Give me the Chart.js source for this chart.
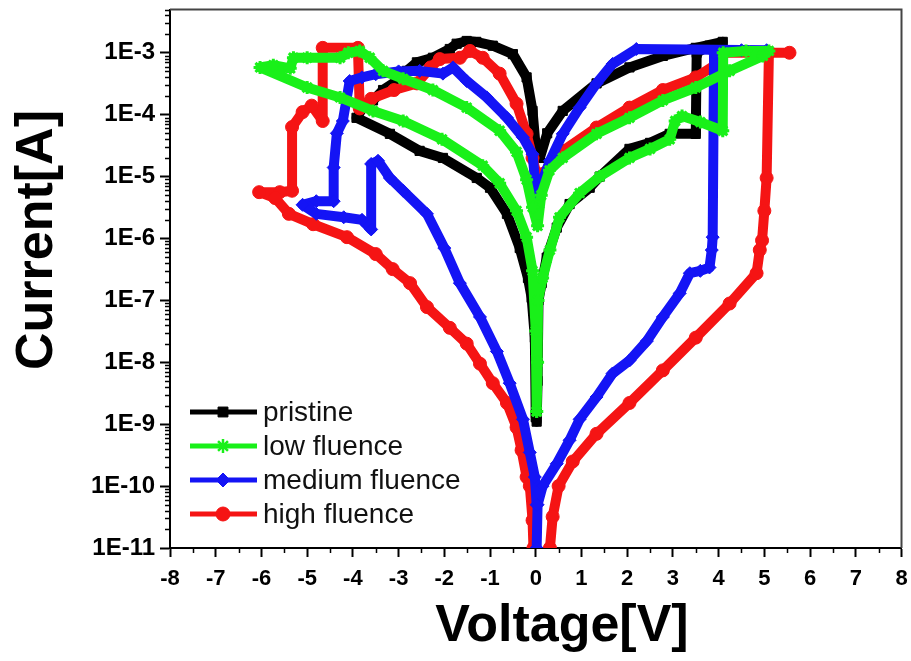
<!DOCTYPE html>
<html>
<head>
<meta charset="utf-8">
<title>I-V curves</title>
<script src="https://cdn.jsdelivr.net/npm/chart.js@4.4.0/dist/chart.umd.min.js"></script>
<style>
    html, body { margin: 0; padding: 0; background: #fff; }
    #wrap { width: 911px; height: 661px; position: relative; }
</style>
</head>
<body>
<div id="wrap"><canvas id="iv-chart"></canvas></div>
<script>
// voltage [V] and current [A], in sweep order
const pristineV = [0.02, 0.04, 0.06, 0.13, 0.24, 0.46, 0.74, 1.18, 1.4, 2.05, 2.5, 2.93, 3.5, 3.52, 3.8, 4.09, 3.5, 2.78, 2.05, 1.33, 0.59, 0.25, 0.09, 0.02, -0.07, -0.2, -0.5, -0.94, -1.3, -1.51, -1.73, -1.88, -2.25, -2.6, -2.82, -3.04, -3.34, -3.56, -3.78, -3.92, -3.19, -2.54, -2.03, -1.29, -1.0, -0.63, -0.35, -0.17, -0.09, -0.02, 0.0];
const pristineI = [1.1e-9, 5e-9, 1e-7, 1.9e-7, 4.9e-7, 1.5e-6, 3.6e-6, 6.6e-6, 1e-5, 2.8e-5, 3.5e-5, 4.9e-5, 4.9e-5, 1e-3, 1.3e-3, 1.5e-3, 1.2e-3, 8.9e-4, 5.8e-4, 3.2e-4, 1.15e-4, 5e-5, 2e-5, 2e-5, 1.15e-4, 4e-4, 9.5e-4, 1.3e-3, 1.5e-3, 1.55e-3, 1.4e-3, 1.15e-3, 8.3e-4, 7e-4, 5.1e-4, 3.5e-4, 2.5e-4, 1.7e-4, 1.3e-4, 8.9e-5, 4.9e-5, 2.6e-5, 2e-5, 9.5e-6, 6.6e-6, 2.5e-6, 7e-7, 2.3e-7, 1.1e-7, 2.5e-8, 1.3e-9];

const lowV = [0.02, 0.04, 0.05, 0.15, 0.31, 0.52, 0.96, 1.4, 2.05, 2.5, 2.93, 3.05, 3.2, 3.6, 4.09, 4.1, 4.6, 5.1, 4.97, 4.24, 3.5, 2.78, 2.05, 1.33, 0.59, 0.3, 0.12, 0.04, -0.07, -0.2, -0.42, -0.79, -1.51, -2.25, -2.9, -3.34, -3.63, -3.85, -4.1, -4.28, -5.0, -5.3, -5.37, -5.74, -6.03, -5.0, -4.28, -3.56, -2.9, -2.05, -1.16, -0.79, -0.42, -0.2, -0.07, 0.0, 0.02];
const lowI = [1.6e-9, 1e-8, 1e-7, 2.3e-7, 6.5e-7, 2.2e-6, 5.4e-6, 1e-5, 2e-5, 2.8e-5, 4e-5, 7.9e-5, 9.5e-5, 7.6e-5, 5.5e-5, 1e-3, 1.07e-3, 1.07e-3, 8.9e-4, 5.1e-4, 2.75e-4, 1.7e-4, 8.9e-5, 4.9e-5, 2e-5, 1.26e-5, 5e-6, 1.6e-6, 3.2e-6, 8.9e-6, 2.5e-5, 5.5e-5, 1.3e-4, 2.5e-4, 3.8e-4, 5.1e-4, 8.3e-4, 1.07e-3, 1e-3, 8.3e-4, 8.3e-4, 8.3e-4, 5.6e-4, 6.3e-4, 5.8e-4, 2.75e-4, 1.9e-4, 1.15e-4, 7.9e-5, 4e-5, 1.5e-5, 7.8e-6, 2.8e-6, 1.05e-6, 3e-7, 3.2e-8, 1.6e-9];

const mediumV = [0.02, 0.04, 0.15, 0.46, 0.74, 0.96, 1.33, 1.68, 2.05, 2.43, 2.78, 3.15, 3.37, 3.6, 3.8, 3.85, 3.87, 3.9, 4.5, 5.05, 2.2, 1.68, 1.33, 0.96, 0.59, 0.31, 0.09, 0.04, -0.07, -0.28, -0.63, -1.07, -1.51, -1.81, -2.03, -2.54, -3.0, -3.5, -3.8, -4.07, -4.22, -4.35, -4.42, -4.42, -4.8, -5.1, -4.8, -4.2, -3.8, -3.6, -3.6, -3.45, -3.19, -2.9, -2.38, -2.0, -1.66, -1.22, -0.85, -0.57, -0.28, -0.13, -0.02, 0.02];
const mediumI = [1e-11, 5e-11, 1e-10, 2.3e-10, 5.5e-10, 1.2e-9, 2.75e-9, 6.6e-9, 1.07e-8, 2.2e-8, 5.4e-8, 1.3e-7, 2.75e-7, 3e-7, 3.4e-7, 6.5e-7, 1.05e-6, 1e-3, 1.1e-3, 1.1e-3, 1.15e-3, 6.6e-4, 3.2e-4, 1.3e-4, 4.9e-5, 1.8e-5, 6.6e-6, 3.2e-6, 2.3e-5, 4.3e-5, 8.9e-5, 1.9e-4, 3.5e-4, 5.8e-4, 4.6e-4, 5.1e-4, 5e-4, 4.5e-4, 4e-4, 3.5e-4, 7.9e-5, 5e-5, 1.4e-5, 4e-6, 4e-6, 3.5e-6, 2.5e-6, 2.2e-6, 2e-6, 1.4e-6, 1.6e-5, 1.8e-5, 9.5e-6, 5.9e-6, 2.5e-6, 7e-7, 1.9e-7, 5.4e-8, 1.5e-8, 4.6e-9, 1.2e-9, 3.5e-10, 1.4e-10, 5e-11];

const highV = [0.31, 0.37, 0.5, 0.81, 1.33, 2.05, 2.78, 3.5, 4.24, 4.83, 4.9, 4.95, 5.0, 5.05, 5.1, 5.55, 4.0, 3.96, 3.5, 2.78, 2.05, 1.33, 0.59, 0.15, 0.03, -0.07, -0.2, -0.42, -0.79, -1.16, -1.44, -1.66, -2.1, -2.3, -2.6, -3.1, -3.6, -3.85, -3.89, -4.66, -4.66, -4.9, -5.1, -5.33, -5.33, -5.6, -6.05, -5.7, -5.4, -4.87, -4.13, -3.5, -3.13, -2.75, -2.38, -1.88, -1.51, -1.22, -0.94, -0.63, -0.42, -0.31, -0.2, -0.13, -0.07, -0.05];
const highI = [1e-11, 3.2e-11, 1e-10, 2.5e-10, 7e-10, 2.2e-9, 7.4e-9, 2.5e-8, 8.9e-8, 2.75e-7, 6.5e-7, 9.3e-7, 2.8e-6, 9.5e-6, 1e-3, 1e-3, 1e-3, 6.6e-4, 4e-4, 2.5e-4, 1.3e-4, 6.2e-5, 2.6e-5, 1.1e-5, 1e-5, 2e-5, 4.9e-5, 1.5e-4, 4.6e-4, 8.3e-4, 1.07e-3, 8.3e-4, 7.9e-4, 5.8e-4, 3.2e-4, 2.5e-4, 1.8e-4, 1.26e-4, 1.2e-3, 1.2e-3, 7.9e-5, 1.4e-4, 1.1e-4, 6.3e-5, 5.9e-6, 5.6e-6, 5.6e-6, 4.5e-6, 2.5e-6, 1.7e-6, 1.05e-6, 5.6e-7, 3.2e-7, 1.9e-7, 7.8e-8, 3.6e-8, 2e-8, 9.5e-9, 4.6e-9, 2.2e-9, 8.9e-10, 3.8e-10, 1.4e-10, 1e-10, 2.8e-11, 1e-11];

const seriesNames = ['pristine', 'low fluence', 'medium fluence', 'high fluence'];
const xTickValues = [-8, -7, -6, -5, -4, -3, -2, -1, 0, 1, 2, 3, 4, 5, 6, 7, 8];
const yTickValues = [1e-11, 1e-10, 1e-9, 1e-8, 1e-7, 1e-6, 1e-5, 1e-4, 1e-3];

const FONT = "'Liberation Sans', Arial, Helvetica, sans-serif";

function toPoints(vs, is) {
    return vs.map((v, k) => ({ x: v, y: is[k] }));
}

function series(label, vs, is, color, style, order) {
    return {
        label: label,
        data: toPoints(vs, is),
        showLine: true,
        borderColor: color,
        backgroundColor: color,
        borderWidth: 10,
        borderJoinStyle: 'round',
        borderCapStyle: 'round',
        pointStyle: style,
        pointRadius: 6.5,
        pointBorderWidth: style === 'star' ? 3 : 1,
        pointBorderColor: color,
        pointBackgroundColor: color,
        tension: 0,
        order: order
    };
}

// frame, minor ticks, axis titles and the inset legend
const decorations = {
    id: 'decorations',
    afterDraw(chart) {
        const { ctx, chartArea: a, scales: { x, y } } = chart;
        ctx.save();

        ctx.strokeStyle = '#444';
        ctx.lineWidth = 2;
        ctx.beginPath();
        ctx.moveTo(a.left, a.top);
        ctx.lineTo(a.right, a.top);
        ctx.lineTo(a.right, a.bottom);
        ctx.stroke();

        ctx.strokeStyle = '#000';
        ctx.lineWidth = 1.5;
        ctx.beginPath();
        for (let e = -11; e <= -3; e++) {
            for (let m = 2; m <= 9; m++) {
                const v = m * Math.pow(10, e);
                if (v > y.max) break;
                const py = Math.round(y.getPixelForValue(v)) + 0.5;
                ctx.moveTo(a.left - 5, py);
                ctx.lineTo(a.left, py);
            }
        }
        for (let v = -7.5; v < 8; v += 1) {
            const px = Math.round(x.getPixelForValue(v)) + 0.5;
            ctx.moveTo(px, a.bottom);
            ctx.lineTo(px, a.bottom + 5);
        }
        ctx.stroke();

        ctx.fillStyle = '#000';
        ctx.font = 'bold 52px ' + FONT;
        ctx.textAlign = 'center';
        ctx.textBaseline = 'middle';
        ctx.fillText('Voltage[V]', 562, 627);
        ctx.save();
        ctx.translate(38, 240);
        ctx.rotate(-Math.PI / 2);
        ctx.fillText('Current[A]', 0, 0);
        ctx.restore();

        const rowY = [412, 446, 480, 514];
        ctx.font = '28px ' + FONT;
        ctx.textAlign = 'left';
        [0, 1, 2, 3].forEach(k => {
            const ds = chart.data.datasets[k];
            ctx.strokeStyle = ds.borderColor;
            ctx.fillStyle = ds.borderColor;
            ctx.lineWidth = 5;
            ctx.beginPath();
            ctx.moveTo(190, rowY[k]);
            ctx.lineTo(257, rowY[k]);
            ctx.stroke();
            ctx.lineWidth = ds.pointStyle === 'star' ? 2.5 : 1;
            Chart.helpers.drawPoint(ctx, {
                pointStyle: ds.pointStyle,
                rotation: 0,
                radius: 7,
                borderWidth: ctx.lineWidth
            }, 223, rowY[k]);
            ctx.fillStyle = '#111';
            ctx.fillText(ds.label, 263, rowY[k] + 1);
        });

        ctx.restore();
    }
};

const ctx = document.getElementById('iv-chart').getContext('2d');
new Chart(ctx, {
    type: 'scatter',
    data: {
        datasets: [
            series(seriesNames[0], pristineV, pristineI, '#000000', 'rect', 3),
            series(seriesNames[1], lowV, lowI, '#19f019', 'star', 0),
            series(seriesNames[2], mediumV, mediumI, '#1414f5', 'rectRot', 1),
            series(seriesNames[3], highV, highI, '#f51414', 'circle', 2)
        ]
    },
    options: {
        responsive: true,
        maintainAspectRatio: false,
        animation: false,
        layout: { padding: { left: 0, right: 9, top: 8, bottom: 0 } },
        plugins: {
            legend: { display: false },
            tooltip: { enabled: false }
        },
        scales: {
            x: {
                type: 'linear',
                min: -8,
                max: 8,
                afterBuildTicks: s => { s.ticks = xTickValues.map(v => ({ value: v })); },
                afterFit: s => { s.height = 113; s.paddingLeft = 0; s.paddingRight = 0; },
                grid: { drawOnChartArea: false, tickLength: 9, tickWidth: 2, tickColor: '#000' },
                border: { color: '#000', width: 2 },
                ticks: {
                    color: '#000',
                    padding: 9,
                    maxRotation: 0,
                    autoSkip: false,
                    font: { family: FONT, size: 22, weight: 'bold' }
                }
            },
            y: {
                type: 'logarithmic',
                min: 1e-11,
                max: 5e-3,
                afterBuildTicks: s => { s.ticks = yTickValues.map(v => ({ value: v })); },
                afterFit: s => { s.width = 170; s.paddingTop = 0; s.paddingBottom = 0; },
                grid: { drawOnChartArea: false, tickLength: 10, tickWidth: 2, tickColor: '#000' },
                border: { color: '#000', width: 2 },
                ticks: {
                    color: '#000',
                    padding: 5,
                    autoSkip: false,
                    font: { family: FONT, size: 24, weight: 'bold' },
                    callback: v => '1E' + Math.round(Math.log10(v))
                }
            }
        }
    },
    plugins: [decorations]
});
</script>
</body>
</html>
